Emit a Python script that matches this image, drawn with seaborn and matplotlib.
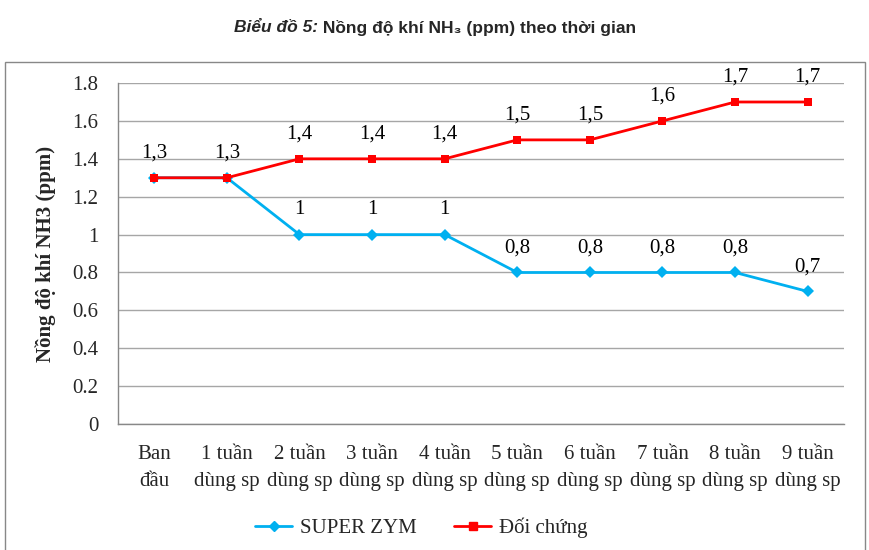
import matplotlib
matplotlib.use("Agg")
import matplotlib.pyplot as plt
import numpy as np
import pandas as pd
import seaborn as sns
from matplotlib.patches import Rectangle

# data
categories = ["Ban\nđầu", "1 tuần\ndùng sp", "2 tuần\ndùng sp", "3 tuần\ndùng sp", "4 tuần\ndùng sp",
              "5 tuần\ndùng sp", "6 tuần\ndùng sp", "7 tuần\ndùng sp", "8 tuần\ndùng sp", "9 tuần\ndùng sp"]
super_zym = [1.3, 1.3, 1.0, 1.0, 1.0, 0.8, 0.8, 0.8, 0.8, 0.7]
doi_chung = [1.3, 1.3, 1.4, 1.4, 1.4, 1.5, 1.5, 1.6, 1.7, 1.7]
series_names = ["SUPER ZYM", "Đối chứng"]
colors = {"SUPER ZYM": "#00B0F0", "Đối chứng": "#FF0000"}
markers = {"SUPER ZYM": "D", "Đối chứng": "s"}

df = pd.DataFrame({
    "pos": list(range(len(categories))) * 2,
    "value": super_zym + doi_chung,
    "series": [series_names[0]] * len(categories) + [series_names[1]] * len(categories),
})

sns.set_style("white")
serif = ["Liberation Serif", "DejaVu Serif"]
sans = ["Liberation Sans Narrow", "Liberation Sans", "DejaVu Sans"]
plt.rcParams["font.family"] = serif

fig = plt.figure(figsize=(8.7, 5.5), dpi=100)
ax = fig.add_axes([0.1356, 0.229, 0.8345, 0.62])

sns.lineplot(data=df, x="pos", y="value", hue="series", style="series",
             markers=markers, dashes=False,
             palette=colors, markersize=6, linewidth=2, markeredgewidth=0,
             ax=ax, legend=False)

# data labels (one label where both series share the same value)
for s, vals, other in [(series_names[0], super_zym, doi_chung), (series_names[1], doi_chung, None)]:
    for i, v in enumerate(vals):
        if other is not None and abs(other[i] - v) < 1e-9:
            continue
        lab = ("%g" % v).replace(".", ",")
        ax.annotate(lab, (i, v), xytext=(0, 11), textcoords="offset points",
                    ha="center", va="bottom", fontsize=15, color="black")

ax.set_xlim(-0.5, len(categories) - 0.5)
ax.set_ylim(0, 1.8)
yt = np.arange(0, 1.81, 0.2)
ax.set_yticks(yt)
ax.set_yticklabels(["0" if t == 0 else ("1" if abs(t - 1) < 1e-9 else "%.1f" % t) for t in yt])
ax.set_xticks(range(len(categories)))
ax.set_xticklabels(categories, linespacing=1.55)
ax.set_xticks(np.arange(-0.5, len(categories), 1), minor=True)
ax.tick_params(axis="x", which="major", length=0, pad=15, labelsize=15)
ax.tick_params(axis="x", which="minor", length=6, color="#888888", width=1, direction="out")
ax.tick_params(axis="y", length=6, color="#888888", width=1, direction="out", labelsize=15, pad=8)
ax.grid(axis="y", color="#a6a6a6", linewidth=1)
ax.set_axisbelow(True)
for side in ["top", "right"]:
    ax.spines[side].set_visible(False)
for side in ["left", "bottom"]:
    ax.spines[side].set_color("#888888")
    ax.spines[side].set_linewidth(1)
ax.set_xlabel("")
ax.set_ylabel("Nồng độ khí NH3 (ppm)", fontsize=15, fontweight="bold", labelpad=12)

# legend
handles = [plt.Line2D([], [], color=colors[s], marker=markers[s],
                      markersize=5 if s == "SUPER ZYM" else 6, linewidth=2) for s in series_names]
fig.legend(handles, series_names, loc="center", bbox_to_anchor=(0.484, 0.04), ncol=2,
           frameon=False, fontsize=15, handlelength=1.8, handletextpad=0.35, columnspacing=1.8)

# chart border
fig.patches.append(Rectangle((5 / 870, -0.01), 860 / 870, 1 - 62 / 550 + 0.01,
                             transform=fig.transFigure, fill=False,
                             edgecolor="#888888", linewidth=1))

# title, two parts centred together
ty = 1 - 28 / 550
t1 = fig.text(0, ty, "Biểu đồ 5:", ha="left", va="center", fontsize=12.5,
              fontweight="bold", style="italic", family=sans)
t2 = fig.text(0, ty, " Nồng độ khí NH₃ (ppm) theo thời gian", ha="left", va="center",
              fontsize=12.5, fontweight="bold", family=sans)
r = fig.canvas.get_renderer()
w1 = t1.get_window_extent(r).width / fig.bbox.width
w2 = t2.get_window_extent(r).width / fig.bbox.width
x0 = 0.5 - (w1 + w2) / 2
t1.set_x(x0)
t2.set_x(x0 + w1)

fig.savefig("out.png", dpi=100)
